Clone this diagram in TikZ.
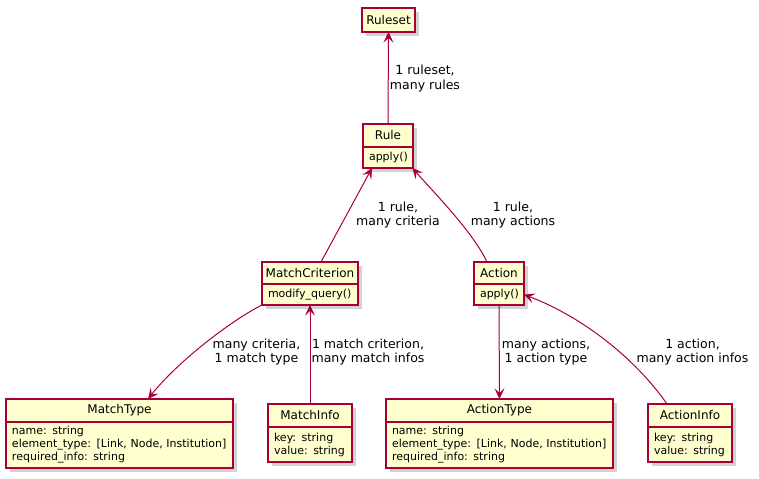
\documentclass[tikz,border=0pt]{standalone}
\usepackage{fontspec}
\setmainfont{DejaVu Sans}
\usetikzlibrary{positioning,shadows,arrows.meta}
\definecolor{umlred}{HTML}{A80036}
\definecolor{umlfill}{HTML}{FEFECE}

\begin{document}
\begin{tikzpicture}[x=0.75pt,y=-0.75pt,
	cls/.style={draw=umlred, fill=umlfill, line width=0.95pt, inner sep=0pt, outer sep=0pt,
		drop shadow={opacity=0.35, shadow xshift=3pt, shadow yshift=-3pt},
		font=\fontsize{9}{11}\selectfont},
	mem/.style={cls, align=left, inner xsep=4.5pt, font=\fontsize{8.25}{9.75}\selectfont},
	link/.style={draw=umlred, line width=0.75pt, -{Stealth[length=8pt,width=7.5pt,inset=3.5pt]}},
	lbl/.style={align=center, font=\fontsize{9.4}{10.9}\selectfont}]
		\useasboundingbox (0,0) rectangle (759,478);

		% classes
		\draw (388.5,20) node [cls, minimum width=39.75pt, minimum height=18pt] (ruleset) {Ruleset};
		\draw (388,135.5) node [cls, minimum width=37.5pt, minimum height=17.25pt] (rule) {Rule};
		\node [mem, text width=28.5pt, minimum height=15.75pt, below=0pt of rule] (rule-m) {apply()};
		\draw (310,273) node [cls, minimum width=72pt, minimum height=16.5pt] (mc) {MatchCriterion};
		\node [mem, text width=63pt, minimum height=15.75pt, below=0pt of mc] (mc-m) {modify\_query()};
		\draw (499,273) node [cls, minimum width=37.5pt, minimum height=16.5pt] (act) {Action};
		\node [mem, text width=28.5pt, minimum height=15.75pt, below=0pt of act] (act-m) {apply()};
		\draw (119.5,410.5) node [cls, minimum width=170.25pt, minimum height=17.25pt] (mt) {MatchType};
		\node [mem, text width=161.25pt, minimum height=34.5pt, below=0pt of mt] (mt-m)
			{name: string\\element\_type: [Link, Node, Institution]\\required\_info: string};
		\draw (310,415.5) node [cls, minimum width=63pt, minimum height=17.25pt] (mi) {MatchInfo};
		\node [mem, text width=54pt, minimum height=26.25pt, below=0pt of mi] (mi-m) {key: string\\value: string};
		\draw (499.5,410.5) node [cls, minimum width=170.25pt, minimum height=17.25pt] (at) {ActionType};
		\node [mem, text width=161.25pt, minimum height=34.5pt, below=0pt of at] (at-m)
			{name: string\\element\_type: [Link, Node, Institution]\\required\_info: string};
		\draw (690,415.5) node [cls, minimum width=63pt, minimum height=17.25pt] (ai) {ActionInfo};
		\node [mem, text width=54pt, minimum height=26.25pt, below=0pt of ai] (ai-m) {key: string\\value: string};

		% associations
		\draw[link] (rule.north) -- (ruleset.south);
		\draw[link] ([xshift=8.25pt]mc.north) -- ([xshift=-12pt]rule-m.south);
		\draw[link] ([xshift=-9pt]act.north) .. controls +(-14,-30) and +(22,25) .. ([xshift=-0.5pt]rule-m.south east);
		\draw[link] (mc-m.south west) .. controls +(-30,15) and +(30,-38) .. ([xshift=21.4pt]mt.north);
		\draw[link] (mi.north) -- (mc-m.south);
		\draw[link] (act-m.south) -- (at.north);
		\draw[link] ([xshift=-17.25pt]ai.north) .. controls +(-27,-39) and +(66,25.5) .. (act-m.east);

		% labels
		\node[lbl] (l-rules) at (425,78.5) {1 ruleset,\\many rules};
		\node[lbl] (l-crit) at (398,215) {1 rule,\\many criteria};
		\node[lbl] (l-acts) at (513,215) {1 rule,\\many actions};
		\node[lbl] (l-mtype) at (256.5,352) {many criteria,\\1 match type};
		\node[lbl] (l-minfo) at (368,352) {1 match criterion,\\many match infos};
		\node[lbl] (l-atype) at (546,352) {many actions,\\1 action type};
		\node[lbl] (l-ainfo) at (692.5,352) {1 action,\\many action infos};
	\end{tikzpicture}
\end{document}
